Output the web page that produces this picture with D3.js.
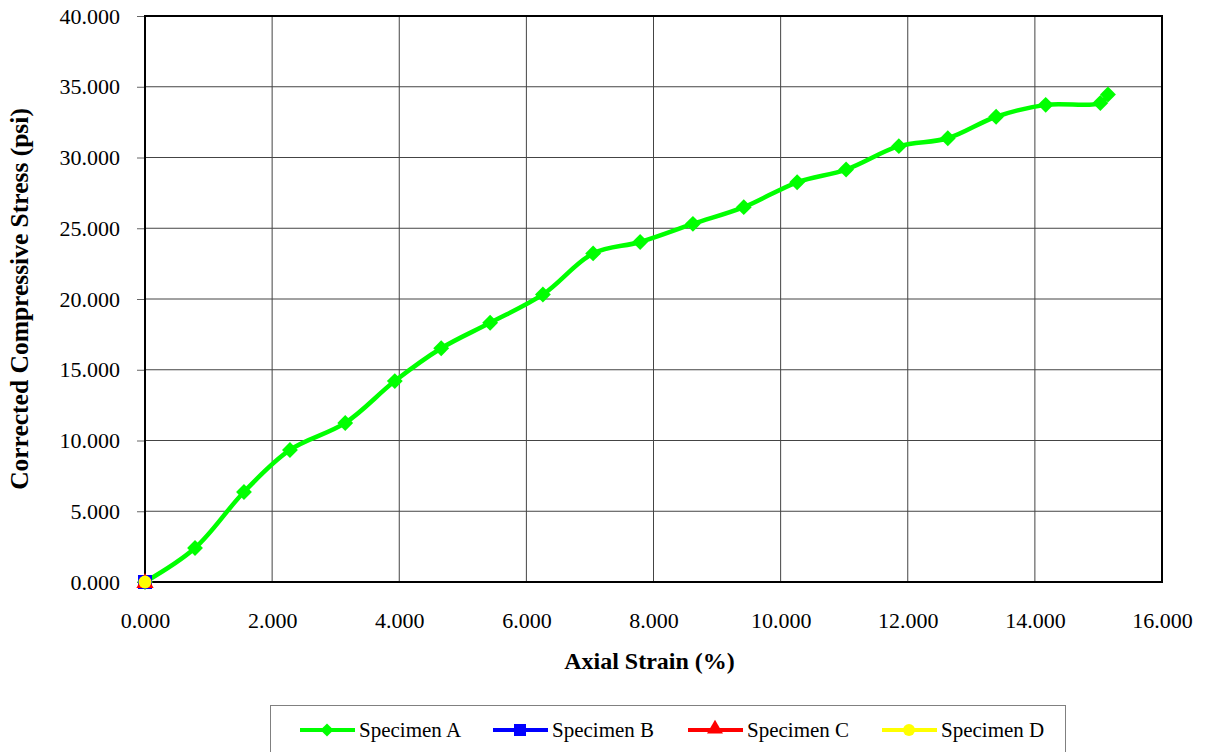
<!DOCTYPE html>
<html lang="en">
<head>
<meta charset="UTF-8">
<title>Corrected Compressive Stress vs Axial Strain</title>
<script src="https://d3js.org/d3.v7.js"></script>
<style>
    body{ margin:0; background:#fff; font-family:"Liberation Serif", "Times New Roman", serif; }
</style>
</head>
<body>
<div id="chart"></div>
<script>
    // data
    var strainA = [0, 0.787, 1.557, 2.28, 3.15, 3.93, 4.66, 5.43, 6.26, 7.05, 7.79, 8.62, 9.42, 10.26, 11.03, 11.86, 12.63, 13.39, 14.17, 15.03, 15.15]
    var stressA = [0, 2.40, 6.36, 9.33, 11.24, 14.2, 16.52, 18.32, 20.32, 23.22, 24.03, 25.31, 26.49, 28.25, 29.15, 30.80, 31.36, 32.88, 33.72, 33.85, 34.45]
    var strainB = [0], stressB = [0]
    var strainC = [0], stressC = [0]
    var strainD = [0], stressD = [0]
    var seriesNames = ["Specimen A", "Specimen B", "Specimen C", "Specimen D"]
    var xTicks = [0, 2, 4, 6, 8, 10, 12, 14, 16]
    var yTicks = [0, 5, 10, 15, 20, 25, 30, 35, 40]

    var width = 1205, height = 752
    var margin = {top:16, right:43, bottom:170, left:145}

    var svg = d3.select("#chart").append("svg")
        .attr("width", width)
        .attr("height", height)
        .style("font-family", "'Liberation Serif', 'Times New Roman', serif")

    var x = d3.scaleLinear().domain([0,16]).range([margin.left, width - margin.right])
    var y = d3.scaleLinear().domain([0,40]).range([height - margin.bottom, margin.top])

    //gridlines
    svg.append("g").selectAll("line").data(xTicks).join("line")
        .attr("x1", d => x(d)).attr("x2", d => x(d))
        .attr("y1", y(40)).attr("y2", y(0))
        .attr("stroke", "#444").attr("stroke-width", 1)
    svg.append("g").selectAll("line").data(yTicks).join("line")
        .attr("x1", x(0)).attr("x2", x(16))
        .attr("y1", d => y(d)).attr("y2", d => y(d))
        .attr("stroke", "#444").attr("stroke-width", 1)

    //axes
    var xAxis = svg.append("g")
        .attr("transform", "translate(0," + y(0) + ")")
        .call(d3.axisBottom(x).tickValues(xTicks).tickFormat(d3.format(".3f")).tickSize(0).tickPadding(30))
        .attr("font-family", null).attr("font-size", 22)
    xAxis.select(".domain").remove()
    xAxis.selectAll("text").attr("fill", "#000")

    var yAxis = svg.append("g")
        .attr("transform", "translate(" + x(0) + ",0)")
        .call(d3.axisLeft(y).tickValues(yTicks).tickFormat(d3.format(".3f")).tickSize(8).tickPadding(17))
        .attr("font-family", null).attr("font-size", 22)
    yAxis.select(".domain").remove()
    yAxis.selectAll(".tick line").attr("stroke", "#666")
    yAxis.selectAll("text").attr("fill", "#000")

    //plot border
    svg.append("rect")
        .attr("x", x(0)).attr("y", y(40))
        .attr("width", x(16) - x(0)).attr("height", y(0) - y(40))
        .attr("fill", "none").attr("stroke", "#000").attr("stroke-width", 2)

    //titles
    svg.append("text")
        .attr("x", (x(0) + x(16)) / 2 - 4).attr("y", 669)
        .attr("text-anchor", "middle")
        .style("font-size", "24px").style("font-weight", "bold")
        .text("Axial Strain (%)")
    svg.append("text")
        .attr("transform", "translate(28," + y(20) + ") rotate(-90)")
        .attr("text-anchor", "middle")
        .style("font-size", "25.5px").style("font-weight", "bold")
        .text("Corrected Compressive Stress (psi)")

    var line = d3.line()
        .x(d => x(d[0])).y(d => y(d[1]))
        .curve(d3.curveCatmullRom.alpha(0.5))

    var dataA = d3.zip(strainA, stressA)
    svg.append("path").datum(dataA)
        .attr("d", line)
        .attr("fill", "none").attr("stroke", "#00ff00").attr("stroke-width", 4.5)

    var diamond = d3.symbol().type(d3.symbolDiamond2).size(160)
    svg.append("g").selectAll("path").data(dataA).join("path")
        .attr("d", diamond)
        .attr("transform", d => "translate(" + x(d[0]) + "," + y(d[1]) + ")")
        .attr("fill", "#00ff00")

    svg.append("g").selectAll("rect").data(d3.zip(strainB, stressB)).join("rect")
        .attr("x", d => x(d[0]) - 7).attr("y", d => y(d[1]) - 7)
        .attr("width", 14).attr("height", 14)
        .attr("fill", "#0000ff")
    svg.append("g").selectAll("path").data(d3.zip(strainC, stressC)).join("path")
        .attr("d", d3.symbol().type(d3.symbolTriangle).size(130))
        .attr("transform", d => "translate(" + x(d[0]) + "," + (y(d[1]) + 1) + ")")
        .attr("fill", "#ff0000")
    svg.append("g").selectAll("circle").data(d3.zip(strainD, stressD)).join("circle")
        .attr("cx", d => x(d[0])).attr("cy", d => y(d[1]))
        .attr("r", 6.5)
        .attr("fill", "#ffff00")

    //legend
    var legend = svg.append("g")
    legend.append("rect")
        .attr("x", 270.5).attr("y", 705.5)
        .attr("width", 795).attr("height", 60)
        .attr("fill", "#fff").attr("stroke", "#808080").attr("stroke-width", 1)

    var colors = ["#00ff00", "#0000ff", "#ff0000", "#ffff00"]
    var legendX = [300, 493, 688, 882]
    var items = legend.selectAll("g").data(seriesNames).join("g")
        .attr("transform", (d, i) => "translate(" + legendX[i] + ",730)")
    items.append("line")
        .attr("x1", 0).attr("x2", 55)
        .attr("stroke", (d, i) => colors[i]).attr("stroke-width", 4)
    items.each(function(d, i){
        var g = d3.select(this)
        if(i == 0){
            g.append("path").attr("d", d3.symbol().type(d3.symbolDiamond2).size(110))
                .attr("transform", "translate(27,0)").attr("fill", colors[i])
        } else if(i == 1){
            g.append("rect").attr("x", 21).attr("y", -6).attr("width", 12).attr("height", 12).attr("fill", colors[i])
        } else if(i == 2){
            g.append("path").attr("d", d3.symbol().type(d3.symbolTriangle).size(110))
                .attr("transform", "translate(27,-1)").attr("fill", colors[i])
        } else {
            g.append("circle").attr("cx", 27).attr("r", 6).attr("fill", colors[i])
        }
    })
    items.append("text")
        .attr("x", 59).attr("y", 7)
        .style("font-size", "21px")
        .text(d => d)
</script>
</body>
</html>
